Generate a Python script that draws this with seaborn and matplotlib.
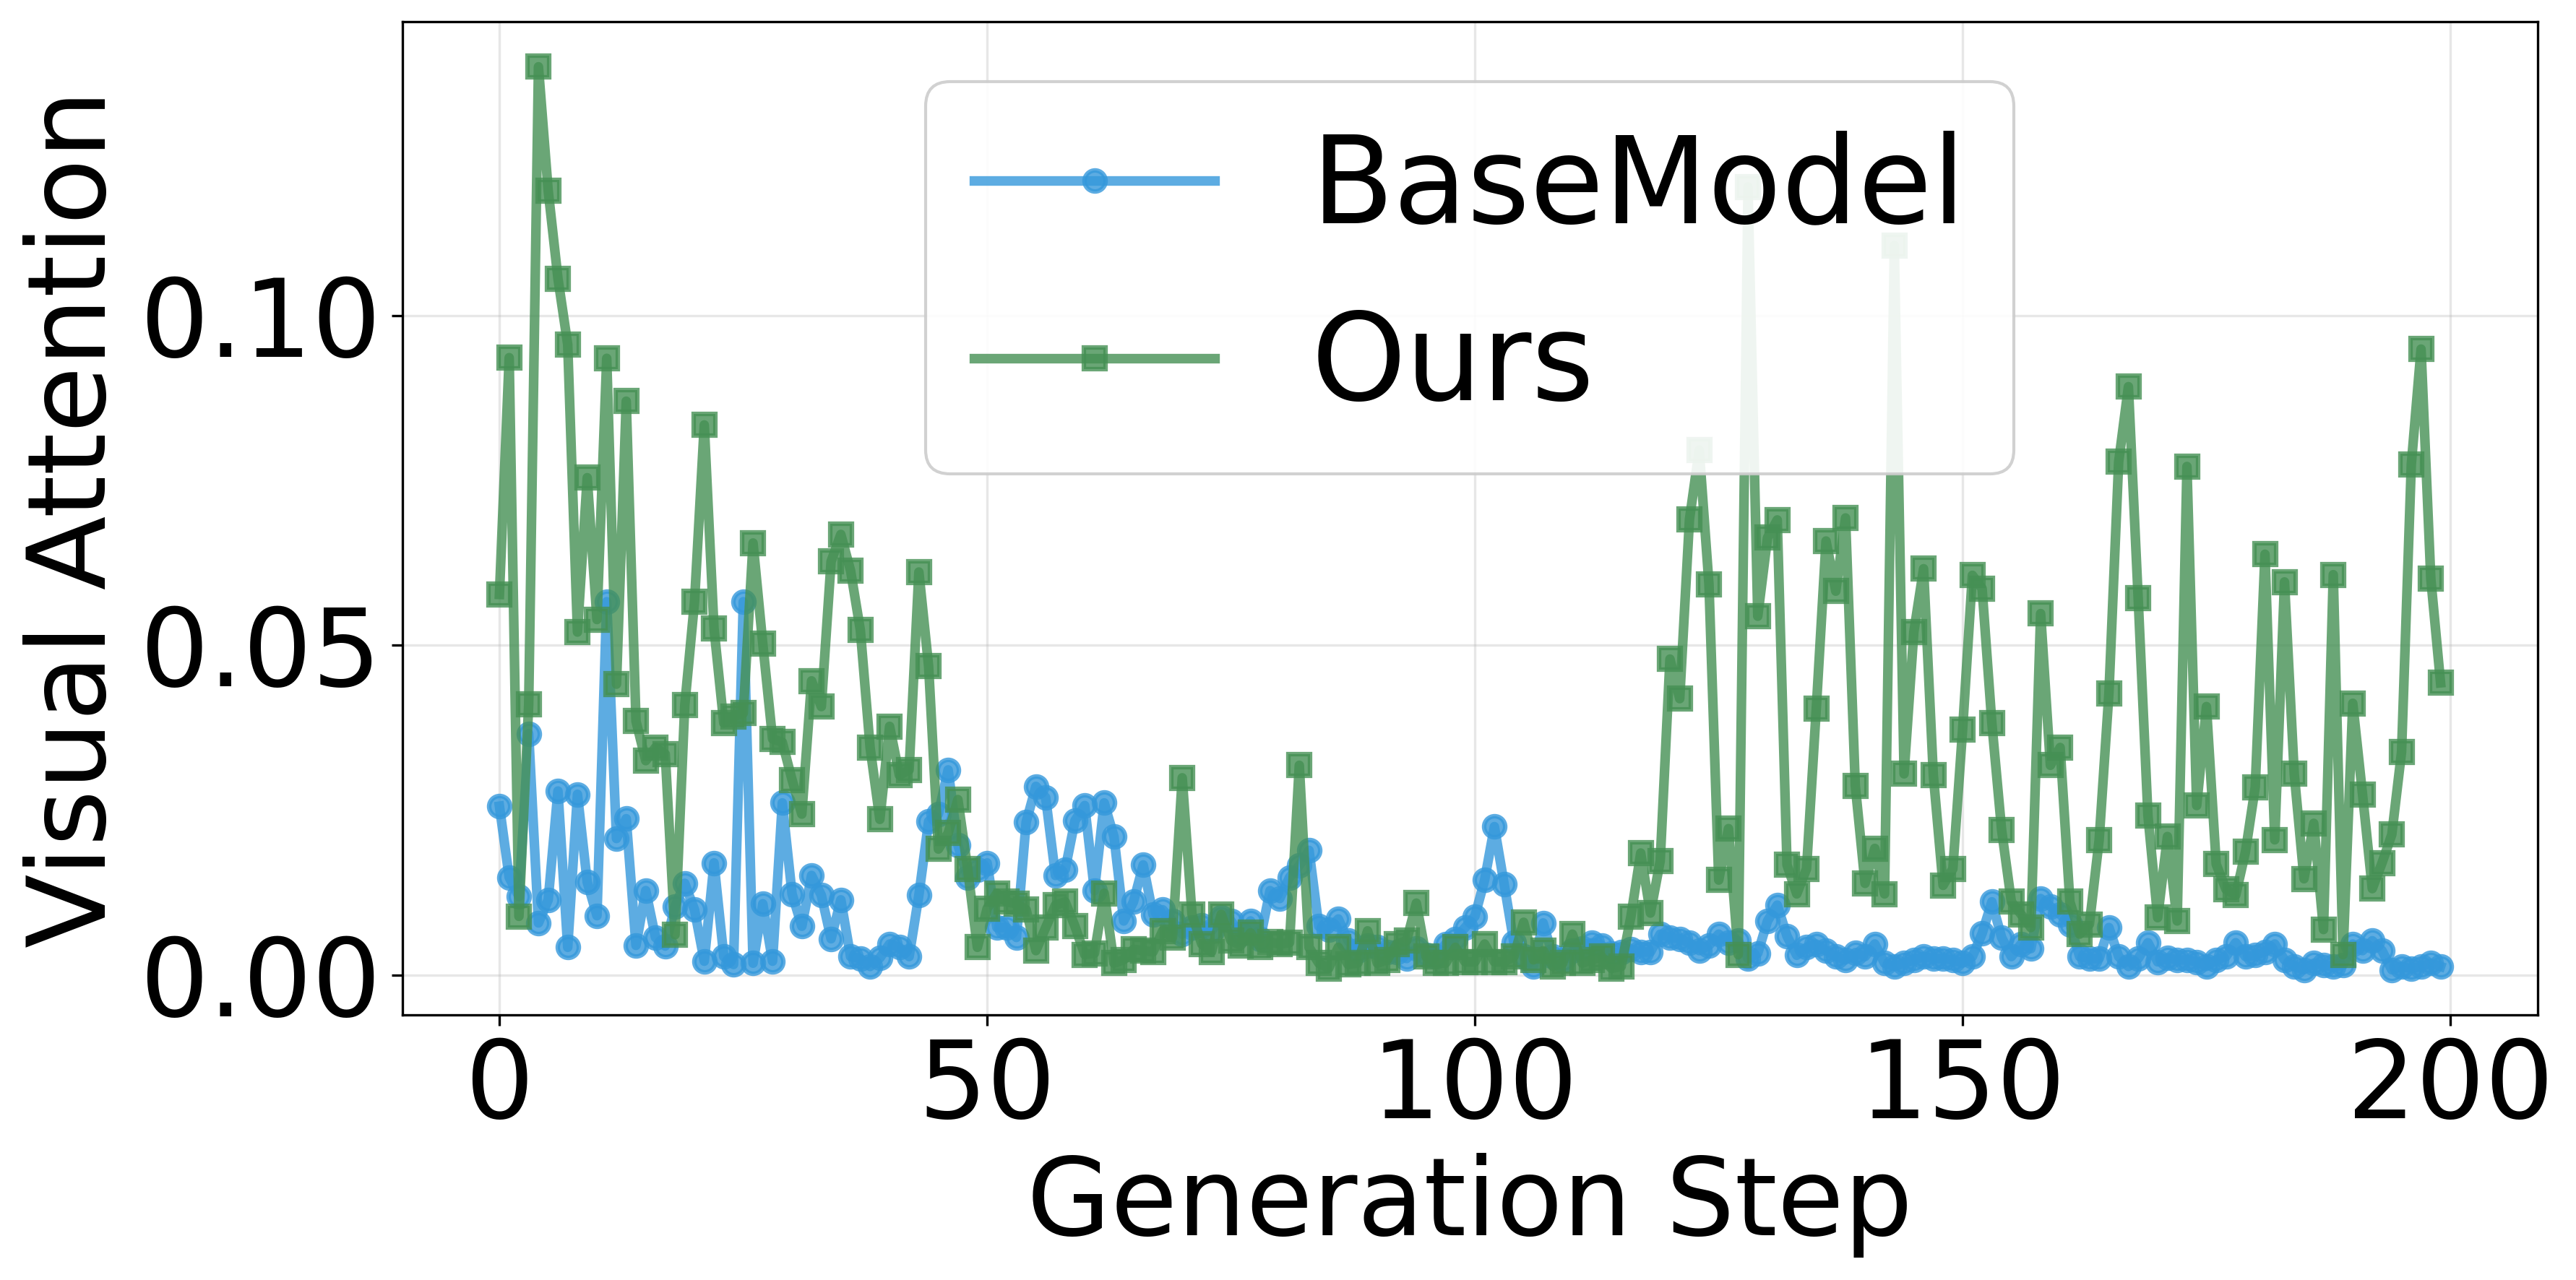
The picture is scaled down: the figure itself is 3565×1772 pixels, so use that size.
import numpy as np
import pandas as pd
import matplotlib
matplotlib.use("Agg")
import matplotlib.pyplot as plt
import seaborn as sns
from matplotlib.ticker import MultipleLocator, FormatStrFormatter

steps = list(range(200))

base_model = [
    0.0256, 0.0148, 0.0119, 0.0366, 0.0079, 0.0114, 0.0279, 0.0042, 0.0274, 0.0141,
    0.0090, 0.0566, 0.0207, 0.0237, 0.0045, 0.0128, 0.0057, 0.0044, 0.0104, 0.0139,
    0.0099, 0.0021, 0.0170, 0.0028, 0.0016, 0.0566, 0.0018, 0.0108, 0.0021, 0.0261,
    0.0123, 0.0074, 0.0151, 0.0121, 0.0055, 0.0114, 0.0028, 0.0025, 0.0013, 0.0026,
    0.0047, 0.0042, 0.0028, 0.0121, 0.0233, 0.0244, 0.0311, 0.0197, 0.0148, 0.0160,
    0.0170, 0.0072, 0.0072, 0.0057, 0.0232, 0.0286, 0.0269, 0.0151, 0.0160, 0.0234,
    0.0257, 0.0128, 0.0261, 0.0210, 0.0082, 0.0111, 0.0167, 0.0092, 0.0099, 0.0082,
    0.0062, 0.0072, 0.0075, 0.0067, 0.0087, 0.0082, 0.0062, 0.0082, 0.0055, 0.0128,
    0.0116, 0.0148, 0.0166, 0.0189, 0.0074, 0.0069, 0.0085, 0.0052, 0.0037, 0.0045,
    0.0042, 0.0035, 0.0035, 0.0025, 0.0040, 0.0030, 0.0028, 0.0047, 0.0055, 0.0072,
    0.0089, 0.0144, 0.0225, 0.0138, 0.0049, 0.0028, 0.0013, 0.0079, 0.0028, 0.0023,
    0.0037, 0.0040, 0.0049, 0.0045, 0.0033, 0.0035, 0.0039, 0.0035, 0.0035, 0.0062,
    0.0057, 0.0055, 0.0049, 0.0037, 0.0045, 0.0062, 0.0049, 0.0052, 0.0025, 0.0033,
    0.0082, 0.0106, 0.0059, 0.0030, 0.0042, 0.0047, 0.0037, 0.0028, 0.0023, 0.0034,
    0.0028, 0.0047, 0.0018, 0.0013, 0.0018, 0.0023, 0.0028, 0.0025, 0.0025, 0.0023,
    0.0018, 0.0028, 0.0063, 0.0111, 0.0057, 0.0028, 0.0047, 0.0040, 0.0116, 0.0104,
    0.0092, 0.0077, 0.0028, 0.0025, 0.0025, 0.0072, 0.0028, 0.0013, 0.0025, 0.0049,
    0.0020, 0.0026, 0.0023, 0.0023, 0.0020, 0.0013, 0.0023, 0.0028, 0.0049, 0.0028,
    0.0030, 0.0035, 0.0047, 0.0023, 0.0013, 0.0008, 0.0018, 0.0015, 0.0013, 0.0015,
    0.0047, 0.0037, 0.0052, 0.0037, 0.0008, 0.0013, 0.0010, 0.0013, 0.0018, 0.0013,
]

ours = [
    0.0577, 0.0936, 0.0089, 0.0410, 0.1377, 0.1189, 0.1056, 0.0956, 0.0520, 0.0754,
    0.0539, 0.0935, 0.0441, 0.0870, 0.0385, 0.0325, 0.0345, 0.0335, 0.0061, 0.0409,
    0.0566, 0.0834, 0.0525, 0.0382, 0.0392, 0.0397, 0.0655, 0.0502, 0.0358, 0.0353,
    0.0296, 0.0244, 0.0446, 0.0407, 0.0627, 0.0668, 0.0613, 0.0523, 0.0345, 0.0236,
    0.0377, 0.0303, 0.0311, 0.0611, 0.0468, 0.0191, 0.0215, 0.0266, 0.0161, 0.0042,
    0.0101, 0.0124, 0.0111, 0.0108, 0.0099, 0.0037, 0.0072, 0.0106, 0.0111, 0.0074,
    0.0031, 0.0033, 0.0124, 0.0018, 0.0023, 0.0039, 0.0037, 0.0035, 0.0067, 0.0057,
    0.0299, 0.0092, 0.0047, 0.0035, 0.0092, 0.0052, 0.0045, 0.0064, 0.0042, 0.0050,
    0.0047, 0.0049, 0.0318, 0.0042, 0.0018, 0.0010, 0.0042, 0.0016, 0.0018, 0.0067,
    0.0018, 0.0023, 0.0047, 0.0052, 0.0109, 0.0028, 0.0018, 0.0018, 0.0042, 0.0020,
    0.0020, 0.0047, 0.0020, 0.0020, 0.0028, 0.0080, 0.0023, 0.0037, 0.0013, 0.0018,
    0.0062, 0.0018, 0.0023, 0.0028, 0.0010, 0.0013, 0.0089, 0.0185, 0.0094, 0.0173,
    0.0479, 0.0419, 0.0691, 0.0796, 0.0592, 0.0144, 0.0222, 0.0031, 0.1195, 0.0544,
    0.0663, 0.0690, 0.0167, 0.0123, 0.0161, 0.0404, 0.0658, 0.0582, 0.0693, 0.0287,
    0.0139, 0.0192, 0.0123, 0.1106, 0.0305, 0.0520, 0.0616, 0.0303, 0.0136, 0.0161,
    0.0372, 0.0606, 0.0586, 0.0382, 0.0220, 0.0111, 0.0092, 0.0072, 0.0548, 0.0318,
    0.0345, 0.0111, 0.0062, 0.0077, 0.0205, 0.0427, 0.0778, 0.0892, 0.0571, 0.0242,
    0.0087, 0.0210, 0.0082, 0.0771, 0.0257, 0.0407, 0.0168, 0.0130, 0.0121, 0.0187,
    0.0285, 0.0638, 0.0205, 0.0596, 0.0305, 0.0146, 0.0230, 0.0069, 0.0607, 0.0031,
    0.0412, 0.0274, 0.0131, 0.0170, 0.0213, 0.0338, 0.0774, 0.0949, 0.0601, 0.0443,
]

series_names = ["BaseModel", "Ours"]
series_colors = ["#3498db", "#459054"]
series_markers = ["o", "s"]

plt.rcParams["font.family"] = ["DejaVu Sans"]

fig = plt.figure(figsize=(3565 / 300, 1772 / 300), dpi=300)
ax = fig.add_axes([0.1562, 0.2071, 0.9851 - 0.1562, 0.9831 - 0.2071])

for name, vals, col, mk in zip(series_names, [base_model, ours], series_colors, series_markers):
    df = pd.DataFrame({"step": steps, "val": vals})
    sns.lineplot(data=df, x="step", y="val", ax=ax, color=col, marker=mk,
                 linewidth=3.2, markersize=7, alpha=0.8, label=name,
                 markeredgecolor=col, markeredgewidth=1.5, errorbar=None)

ax.xaxis.set_major_locator(MultipleLocator(50))
ax.yaxis.set_major_locator(MultipleLocator(0.05))
ax.yaxis.set_major_formatter(FormatStrFormatter("%.2f"))
ax.tick_params(axis="both", labelsize=36)
ax.set_xlabel("Generation Step", fontsize=36)
ax.set_ylabel("Visual Attention", fontsize=36)
ax.grid(True, alpha=0.3)
for s in ax.spines.values():
    s.set_color("black")

leg = ax.legend(loc="upper center", fontsize=40, framealpha=0.9, fancybox=True)

fig.savefig("out.png", dpi=300)
